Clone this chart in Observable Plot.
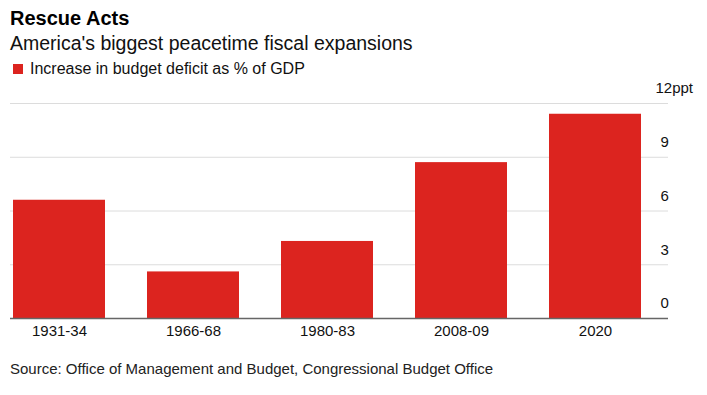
<!DOCTYPE html>
<html>
<head>
<meta charset="utf-8">
<script src="https://cdn.jsdelivr.net/npm/d3@7"></script>
<script src="https://cdn.jsdelivr.net/npm/@observablehq/plot@0.6"></script>
<style>
  html, body { margin: 0; padding: 0; background: #fff; }
  body { width: 707px; height: 395px; overflow: hidden; font-family: "Liberation Sans", Arial, sans-serif; color: #000; }
  .title { position: absolute; left: 10px; top: 6px; font-size: 20px; font-weight: bold; line-height: 24px; }
  .subtitle { position: absolute; left: 10px; top: 31px; font-size: 19.5px; line-height: 24px; color: #111; }
  .legend { position: absolute; left: 13px; top: 59px; font-size: 16px; line-height: 20px; display: flex; align-items: center; color: #111; }
  .legend .sw { width: 10px; height: 10px; background: #dc241f; margin-right: 7px; }
  #chart { position: absolute; left: 0; top: 80px; }
  .caption { position: absolute; left: 10px; top: 359px; font-size: 15px; line-height: 20px; color: #222; }
</style>
</head>
<body>
<div class="title">Rescue Acts</div>
<div class="subtitle">America's biggest peacetime fiscal expansions</div>
<div class="legend"><span class="sw"></span><span>Increase in budget deficit as % of GDP</span></div>
<div id="chart"></div>
<div class="caption">Source: Office of Management and Budget, Congressional Budget Office</div>
<script>
const periods = ["1931-34", "1966-68", "1980-83", "2008-09", "2020"];
const deficitIncrease = [6.6, 2.6, 4.3, 8.7, 11.4];
const yTicks = [0, 3, 6, 9];
const topTick = [12];

const data = periods.map((p, i) => ({period: p, value: deficitIncrease[i]}));

const chart = Plot.plot({
  width: 707,
  height: 265,
  marginLeft: 10,
  marginRight: 39,
  marginTop: 23,
  marginBottom: 27,
  style: {fontFamily: "Liberation Sans, Arial, sans-serif", background: "transparent"},
  x: {domain: periods, range: [11, 644], paddingInner: 0.31, paddingOuter: 0, label: null},
  y: {domain: [0, 12], label: null},
  marks: [
    Plot.ruleY([3, 6, 9, 12], {stroke: "#dcdcdc", strokeWidth: 1}),
    Plot.barY(data, {x: "period", y: "value", fill: "#dc241f"}),
    Plot.ruleY([0], {stroke: "#666", strokeWidth: 1.5}),
    Plot.axisX({tickSize: 0, tickPadding: 7, fontSize: 15, color: "#111", label: null}),
    Plot.axisY(yTicks, {anchor: "right", tickSize: 0, tickPadding: 0, dx: -8, dy: -15, fontSize: 15, color: "#111", label: null, textAnchor: "start"}),
    Plot.axisY(topTick, {anchor: "right", tickSize: 0, tickPadding: 0, dx: -13, dy: -15, fontSize: 15, color: "#111", label: null, textAnchor: "start", tickFormat: d => d + "ppt"})
  ]
});
document.getElementById("chart").appendChild(chart);
</script>
</body>
</html>
